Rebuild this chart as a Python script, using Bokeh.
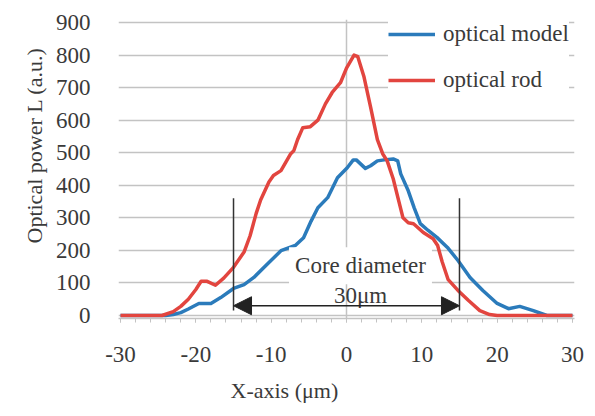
from bokeh.plotting import figure
from bokeh.models import (Range1d, Legend, LegendItem, Arrow, NormalHead, Label,
                          FixedTicker, Title)
from bokeh.embed import file_html
from bokeh.resources import INLINE

# ---------------- data ----------------
rod_x = [-30, -25, -24.5, -23, -22, -21, -20, -19.3, -18.5, -17.4, -16.3, -15,
         -13.6, -12.8, -12, -11.4, -10.3, -9.7, -8.7, -7.4, -7, -6.5, -5.8, -4.8,
         -3.8, -2.8, -1.9, -0.8, 0, 1.0, 1.5, 2.3, 3.2, 4.1, 4.8, 5.4, 6.2, 6.9,
         7.5, 8.2, 8.9, 10.2, 11.5, 12.1, 12.7, 13.5, 14.8, 16.2, 17.7, 19, 20, 30]
rod_y = [0, 0, 0, 12, 28, 50, 80, 105, 105, 93, 115, 148,
         195, 245, 313, 355, 410, 430, 445, 497, 506, 540, 577, 580,
         600, 650, 685, 715, 760, 800, 795, 735, 640, 540, 497, 475, 420, 355,
         300, 285, 282, 255, 236, 215, 165, 110, 77, 46, 15, 3, 0, 0]

model_x = [-30, -24, -23, -22, -21, -19.6, -18, -16.7, -15, -13.6, -12.3, -10.5,
           -8.7, -6.8, -5.7, -4.7, -3.8, -2.5, -1.2, 0.1, 0.9, 1.3, 2.5, 3.2,
           4.1, 5.0, 6.2, 6.8, 7.2, 8.2, 9.0, 9.8, 10.8, 12, 13.4, 14.8, 16.4,
           18.1, 20, 21.5, 23, 24.8, 26.6, 30]
model_y = [0, 0, 3, 9, 20, 37, 37, 55, 83, 95, 117, 158,
           199, 215, 239, 290, 331, 362, 423, 454, 478, 478, 452, 460,
           475, 478, 481, 475, 435, 383, 330, 282, 262, 240, 209, 169, 117,
           77, 37, 21, 28, 15, 0, 0]

x_ticks = [-30, -20, -10, 0, 10, 20, 30]
x_minor_ticks = list(range(-30, 31, 2))
y_ticks = [0, 100, 200, 300, 400, 500, 600, 700, 800, 900]

series_names = ["optical model", "optical rod"]
x_title = "X-axis (μm)"
y_title = "Optical power L (a.u.)"

core_left, core_right = -15, 15
core_line_bottom, core_line_top = 15, 360
arrow_y = 30
core_text = "Core diameter"
core_size_text = "30μm"
core_text_y = 153
core_size_text_y = 61

# ---------------- styles ----------------
FONT = "Liberation Serif"
FS = "23px"
TXT = "#3a3a3a"
BLUE = "#2b7bbb"
RED = "#e2453f"
GRID = "#c3c3c3"

p = figure(width=595, height=416, output_backend="svg", toolbar_location=None,
           x_range=Range1d(-30.27, 30.27), y_range=Range1d(-9.2, 909.2),
           min_border_left=118, min_border_right=21, min_border_top=19,
           min_border_bottom=98)
p.outline_line_color = None
p.background_fill_color = "white"
p.border_fill_color = "white"

# grids
p.ygrid.ticker = FixedTicker(ticks=y_ticks)
p.ygrid.grid_line_color = GRID
p.ygrid.grid_line_width = 1.5
p.xgrid.ticker = FixedTicker(ticks=[0])
p.xgrid.grid_line_color = GRID
p.xgrid.grid_line_width = 1.5

# x axis
xa = p.xaxis[0]
xa.ticker = FixedTicker(ticks=x_ticks, minor_ticks=x_minor_ticks)
xa.major_label_overrides = {t: str(t) for t in x_ticks}
xa.axis_line_color = GRID
xa.axis_line_width = 1.5
xa.major_tick_line_color = GRID
xa.minor_tick_line_color = GRID
xa.major_tick_in = 0
xa.major_tick_out = 4
xa.minor_tick_in = 0
xa.minor_tick_out = 4
xa.major_label_standoff = 24
xa.major_label_text_font = FONT
xa.major_label_text_font_size = FS
xa.major_label_text_color = TXT

# y axis
ya = p.yaxis[0]
ya.ticker = FixedTicker(ticks=y_ticks)
ya.axis_line_color = None
ya.major_tick_line_color = None
ya.minor_tick_line_color = None
ya.major_tick_in = 0
ya.major_tick_out = 0
ya.major_label_standoff = 28
ya.major_label_text_font = FONT
ya.major_label_text_font_size = FS
ya.major_label_text_color = TXT

# series
r_model = p.line(model_x, model_y, line_color=BLUE, line_width=3.5, line_join="round")
r_rod = p.line(rod_x, rod_y, line_color=RED, line_width=3.5, line_join="round")

# core annotation lines
p.segment(x0=[core_left, core_right], y0=[core_line_bottom] * 2,
          x1=[core_left, core_right], y1=[core_line_top] * 2,
          line_color="#333333", line_width=1.5)

p.add_layout(Label(x=(core_left + core_right) / 2, y=core_text_y, x_offset=14,
                   text=core_text, text_align="center", text_baseline="middle",
                   text_font=FONT, text_font_size=FS, text_color=TXT,
                   background_fill_color="white", padding=6))
p.add_layout(Label(x=(core_left + core_right) / 2, y=core_size_text_y, x_offset=14,
                   text=core_size_text, text_align="center", text_baseline="middle",
                   text_font=FONT, text_font_size=FS, text_color=TXT))

p.add_layout(Arrow(x_start=core_left, y_start=arrow_y, x_end=core_right, y_end=arrow_y,
                   line_color="#222222", line_width=1.5,
                   start=NormalHead(size=18, fill_color="#222222", line_color="#222222"),
                   end=NormalHead(size=18, fill_color="#222222", line_color="#222222")))

# axis titles (as side titles for precise placement)
p.add_layout(Title(text=y_title, align="left", offset=75, standoff=12,
                   text_font=FONT, text_font_size="22px", text_color=TXT,
                   text_font_style="normal"), "left")
p.add_layout(Title(text=x_title, align="left", offset=112, standoff=22,
                   text_font=FONT, text_font_size="22px", text_color=TXT,
                   text_font_style="normal"), "below")

# legend
legend = Legend(items=[LegendItem(label=series_names[0], renderers=[r_model]),
                       LegendItem(label=series_names[1], renderers=[r_rod])],
                location=(270, 225), orientation="vertical",
                label_text_font=FONT, label_text_font_size="23px", label_text_color=TXT,
                glyph_width=47, glyph_height=20, spacing=20, padding=8, margin=0,
                label_standoff=8, border_line_color=None,
                background_fill_color="white", background_fill_alpha=1.0)
p.add_layout(legend)

open("out.html", "w").write(file_html(p, INLINE))
